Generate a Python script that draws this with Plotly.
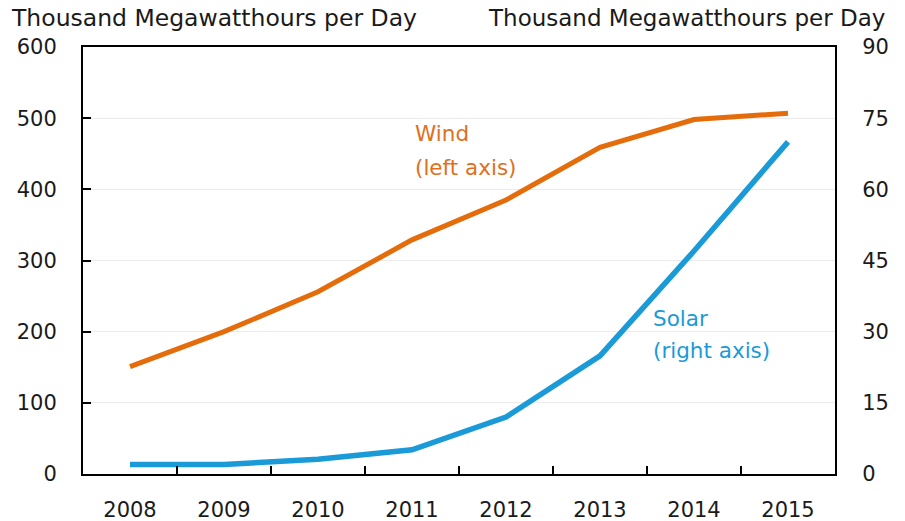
import plotly.graph_objects as go

years = ["2008", "2009", "2010", "2011", "2012", "2013", "2014", "2015"]
wind = [151, 200, 256, 329, 385, 459, 498, 507]
solar = [2.0, 2.0, 3.1, 5.1, 12.0, 24.9, 47.0, 70.0]
left_ticks = [0, 100, 200, 300, 400, 500, 600]
right_ticks = [0, 15, 30, 45, 60, 75, 90]
unit_label = "Thousand Megawatthours per Day"

W, H = 905, 521
L, R, T, B = 83, 70, 47, 47
PW, PH = W - L - R, H - T - B

def px(x):
    return (x - L) / PW

def py(y):
    return (H - B - y) / PH

ORANGE = "#E46C0A"
BLUE = "#1A9AD7"
FONT = "DejaVu Sans"
FS = 21

fig = go.Figure()
fig.add_trace(go.Scatter(x=years, y=wind, mode="lines", line=dict(color=ORANGE, width=5),
                         yaxis="y", showlegend=False, hoverinfo="skip"))
fig.add_trace(go.Scatter(x=years, y=solar, mode="lines", line=dict(color=BLUE, width=5.5),
                         yaxis="y2", showlegend=False, hoverinfo="skip"))

fig.update_layout(
    width=W, height=H,
    margin=dict(l=L, r=R, t=T, b=B, pad=0, autoexpand=False),
    paper_bgcolor="white", plot_bgcolor="white",
    font=dict(family=FONT, size=FS, color="#1a1a1a"),
    xaxis=dict(type="category", range=[-0.5, 7.5], tickson="boundaries",
               ticks="inside", ticklen=8, tickwidth=2, tickcolor="black",
               showline=True, linecolor="black", linewidth=2, mirror=True,
               showgrid=False, tickfont=dict(size=FS), ticklabelstandoff=16,
               automargin=False),
    yaxis=dict(range=[0, 600], tickvals=left_ticks, ticks="inside", ticklen=8,
               tickwidth=2, tickcolor="black", showline=True, linecolor="black",
               linewidth=2, showgrid=True, gridcolor="#EBEBEB", gridwidth=1,
               zeroline=False, ticklabelstandoff=20, automargin=False),
    yaxis2=dict(range=[0, 90], tickvals=right_ticks, overlaying="y", side="right",
                ticks="", showline=True, linecolor="black", linewidth=2,
                showgrid=False, zeroline=False, ticklabelstandoff=21,
                automargin=False),
)

annots = [
    dict(text=unit_label, x=px(9), y=py(18), xanchor="left", yanchor="middle", color="#1a1a1a", size=23.5),
    dict(text=unit_label, x=px(887), y=py(18), xanchor="right", yanchor="middle", color="#1a1a1a", size=23),
    dict(text="Wind", x=px(413), y=py(133), xanchor="left", yanchor="middle", color="#E07020", size=21.5),
    dict(text="(left axis)", x=px(413), y=py(167), xanchor="left", yanchor="middle", color="#E07020", size=21.5),
    dict(text="Solar", x=px(651), y=py(318), xanchor="left", yanchor="middle", color="#1A9AD7", size=21.5),
    dict(text="(right axis)", x=px(651), y=py(350), xanchor="left", yanchor="middle", color="#1A9AD7", size=21.5),
]
for a in annots:
    fig.add_annotation(text=a["text"], x=a["x"], y=a["y"], xref="paper", yref="paper",
                       xanchor=a["xanchor"], yanchor=a["yanchor"], showarrow=False,
                       font=dict(family=FONT, size=a["size"], color=a["color"]))

fig.write_html("out.html", config={"displayModeBar": False},
               post_script="document.body.style.margin='0';document.body.style.overflow='hidden';")
